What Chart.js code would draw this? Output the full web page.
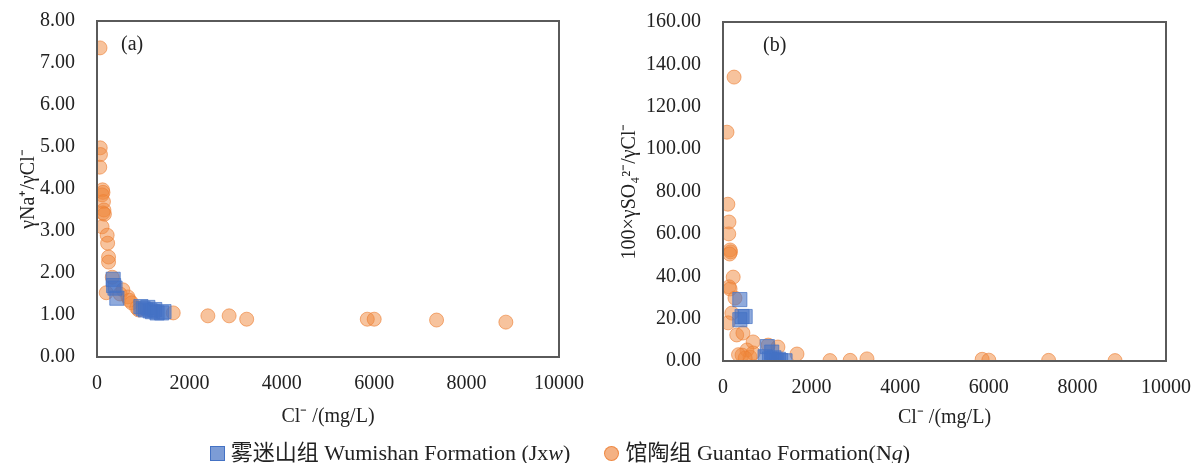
<!DOCTYPE html>
<html>
<head>
<meta charset="utf-8">
<script src="https://cdn.jsdelivr.net/npm/chart.js@4.4.0/dist/chart.umd.min.js"></script>
<style>
    body { margin: 0; background: #fff; width: 1194px; height: 463px; overflow: hidden; position: relative; }
    .wrap { position: absolute; top: 0; height: 440px; }
    #legend { position: absolute; left: 0; width: 1120px; top: 434px; text-align: center;
        font-family: "Liberation Serif", "Noto Sans CJK SC", serif; font-size: 22px; color: #222; }
    #legend .sq { display: inline-block; width: 13px; height: 13px; background: rgba(68,114,196,0.7);
        border: 1px solid #4472C4; margin-right: 6px; vertical-align: -1px; }
    #legend .ci { display: inline-block; width: 13px; height: 13px; border-radius: 50%; background: rgba(237,125,49,0.6);
        border: 1px solid rgba(237,125,49,0.8); margin: 0 6px 0 34px; vertical-align: -1px; }
</style>
</head>
<body>
<div class="wrap" style="left:0;width:590px;"><canvas id="chartA"></canvas></div>
<div class="wrap" style="left:590px;width:604px;"><canvas id="chartB"></canvas></div>
<div id="legend"><span class="sq"></span>雾迷山组 Wumishan Formation (Jx<i>w</i>)<span class="ci"></span>馆陶组 Guantao Formation(N<i>g</i>)</div>
<script>
// (a) γNa+/γCl- vs Cl-
const guantaoA = [
    [65, 7.36], [70, 4.98], [75, 4.82], [60, 4.52], [120, 3.98], [130, 3.92], [110, 3.86], [140, 3.7],
    [150, 3.5], [130, 3.43], [160, 3.4], [110, 3.1], [220, 2.9], [230, 2.71], [250, 2.38], [250, 2.26],
    [330, 1.9], [200, 1.53], [560, 1.6], [500, 1.5], [670, 1.43], [700, 1.35], [750, 1.29], [860, 1.17],
    [900, 1.12], [1650, 1.05], [2400, 0.98], [2860, 0.98], [3240, 0.9], [5850, 0.9], [6000, 0.9],
    [7350, 0.88], [8850, 0.83]
];
const wumishanA = [
    [350, 1.85], [360, 1.7], [390, 1.64], [430, 1.4], [950, 1.2], [1000, 1.15], [1050, 1.12], [1100, 1.18],
    [1150, 1.1], [1200, 1.08], [1250, 1.13], [1300, 1.05], [1400, 1.05], [1450, 1.08]
];

// (b) 100×γSO4 2-/γCl- vs Cl-
const guantaoB = [
    [250, 134], [90, 108], [110, 74], [135, 65.6], [130, 60], [160, 52.4], [170, 51.5], [150, 50.5],
    [230, 39.6], [140, 35], [160, 34], [270, 29.7], [200, 22.6], [115, 18], [310, 12.3], [450, 13.2],
    [680, 9], [540, 5.2], [430, 2.8], [610, 1.9], [680, 3.8], [500, 1.4], [350, 3], [1020, 7.5],
    [1240, 6.6], [1670, 3.3], [2415, 0.2], [2870, 0.3], [3250, 1], [5850, 0.8], [6000, 0.4],
    [7350, 0.3], [8850, 0.2]
];
const wumishanB = [
    [380, 29], [430, 21], [500, 21], [380, 19.5], [1000, 6.8], [1100, 4.2], [950, 2], [1050, 1],
    [1100, 0.5], [1200, 0.3], [1300, 0.2], [1400, 0.1], [1150, 1.5], [1250, 0.8]
];

const xTicks = [0, 2000, 4000, 6000, 8000, 10000];
const yTicksA = [0, 1, 2, 3, 4, 5, 6, 7, 8];
const yTicksB = [0, 20, 40, 60, 80, 100, 120, 140, 160];

const FONT = "'Liberation Serif', 'Times New Roman', serif";
const TXT = '#222';

function toPts(arr) {
    return arr.map(p => ({ x: p[0], y: p[1] }));
}

const boxPlugin = {
    id: 'box',
    afterDraw(chart, args, opts) {
        const a = chart.chartArea;
        const ctx = chart.ctx;
        ctx.save();
        ctx.strokeStyle = '#5a5a5a';
        ctx.lineWidth = 2;
        ctx.strokeRect(a.left, a.top, a.right - a.left, a.bottom - a.top);
        ctx.fillStyle = TXT;
        ctx.font = '20px ' + FONT;
        ctx.textBaseline = 'middle';
        ctx.fillText(opts.label, a.left + opts.dx, a.top + opts.dy);
        ctx.restore();
    }
};

// l = layout padding, areaLeft = wanted chartArea.left in the canvas
function makeChart(id, blue, orange, yTicks, yMax, yTitle, l, areaLeft, axisH, label, dx, dy) {
    new Chart(document.getElementById(id), {
        type: 'scatter',
        data: {
            datasets: [
                {
                    label: 'Wumishan',
                    data: toPts(blue),
                    pointStyle: 'rect',
                    pointRadius: 10,
                    backgroundColor: 'rgba(68,114,196,0.6)',
                    borderColor: 'rgba(68,114,196,0.7)',
                    borderWidth: 1
                },
                {
                    label: 'Guantao',
                    data: toPts(orange),
                    pointStyle: 'circle',
                    pointRadius: 7,
                    backgroundColor: 'rgba(240,135,60,0.5)',
                    borderColor: 'rgba(237,125,49,0.6)',
                    borderWidth: 1
                }
            ]
        },
        options: {
            responsive: true,
            maintainAspectRatio: false,
            animation: false,
            layout: { padding: l },
            plugins: {
                legend: { display: false },
                tooltip: { enabled: false },
                box: { label: label, dx: dx, dy: dy }
            },
            scales: {
                x: {
                    type: 'linear',
                    min: 0, max: 10000,
                    afterBuildTicks: s => { s.ticks = xTicks.map(v => ({ value: v })); },
                    afterFit: s => { s.height = axisH; s.paddingLeft = 0; s.paddingRight = 0; },
                    grid: { display: false },
                    border: { display: false },
                    ticks: { color: TXT, font: { family: FONT, size: 20 }, padding: 7, maxRotation: 0, callback: v => String(v) },
                    title: { display: true, text: 'Cl⁻ /(mg/L)', color: TXT, font: { family: FONT, size: 20 }, padding: { top: 0, bottom: 0 } }
                },
                y: {
                    type: 'linear',
                    min: 0, max: yMax,
                    afterBuildTicks: s => { s.ticks = yTicks.map(v => ({ value: v })); },
                    afterFit: s => { s.width = areaLeft - l.left; s.paddingTop = 0; s.paddingBottom = 0; },
                    grid: { display: false },
                    border: { display: false },
                    ticks: { color: TXT, font: { family: FONT, size: 20 }, padding: 14, callback: v => v.toFixed(2) },
                    title: { display: true, text: yTitle, color: TXT, font: { family: FONT, size: 20 }, padding: { bottom: 0 } }
                }
            }
        },
        plugins: [boxPlugin]
    });
}

makeChart('chartA', wumishanA, guantaoA, yTicksA, 8, 'γNa⁺/γCl⁻',
    { left: 13, right: 31, top: 21, bottom: 11 }, 97, 72, '(a)', 24, 24);
makeChart('chartB', wumishanB, guantaoB, yTicksB, 160, '100×γSO₄²⁻/γCl⁻',
    { left: 24, right: 28, top: 22, bottom: 10 }, 133, 69, '(b)', 40, 24);
</script>
</body>
</html>
